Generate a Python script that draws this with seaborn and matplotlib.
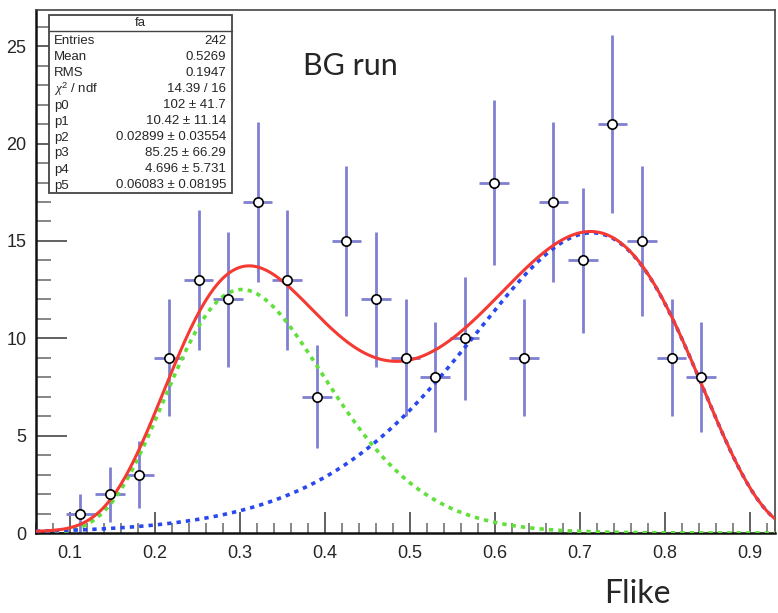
import math
import numpy as np
import pandas as pd
import matplotlib
matplotlib.use("Agg")
import matplotlib.pyplot as plt
from matplotlib.patches import Rectangle
from matplotlib.ticker import MultipleLocator
import seaborn as sns

# Histogram of Flike: 25 bins between 0.06 and 0.93
x_low, x_high, n_bins = 0.06, 0.93, 25
counts = [0, 1, 2, 3, 9, 13, 12, 17, 13, 7, 15, 12, 9, 8, 10, 18, 9, 17, 14, 21, 15, 9, 8, 0, 0]

# Fit parameters (two Poisson-shaped components, the second mirrored at x = 1)
p0, p1, p2 = 102.0, 10.42, 0.02899
p3, p4, p5 = 85.25, 4.696, 0.06083

stat_labels = ["Entries", "Mean", "RMS", r"$\chi^{2}$ / ndf", "p0", "p1", "p2", "p3", "p4", "p5"]
stat_values = ["242", "0.5269", "0.1947", "14.39 / 16", "102 \u00b1 41.7", "10.42 \u00b1 11.14",
               "0.02899 \u00b1 0.03554", "85.25 \u00b1 66.29", "4.696 \u00b1 5.731",
               "0.06083 \u00b1 0.08195"]

sns.set_style("ticks")
plt.rcParams["font.family"] = ["Liberation Sans", "DejaVu Sans"]
plt.rcParams["mathtext.fontset"] = "custom"
plt.rcParams["mathtext.it"] = "Liberation Serif:italic"
plt.rcParams["mathtext.rm"] = "Liberation Sans"

W, H = 778, 613
fig = plt.figure(figsize=(W / 100, H / 100), dpi=100)
ax_l, ax_r, ax_t, ax_b = 36, 775, 10, 533
ax = fig.add_axes([ax_l / W, 1 - ax_b / H, (ax_r - ax_l) / W, (ax_b - ax_t) / H])

width = (x_high - x_low) / n_bins
centers = x_low + width * (np.arange(n_bins) + 0.5)
counts_arr = np.array(counts, dtype=float)
hist = pd.DataFrame({"x": centers, "n": counts_arr, "err": np.sqrt(counts_arr)})
filled = hist[hist["n"] > 0]

# Error bars
ax.errorbar(filled["x"], filled["n"], yerr=filled["err"], xerr=width / 2,
            fmt="none", ecolor="#8080d2", elinewidth=2.0, capsize=0, zorder=2)


def poisson_shape(u, amp, k, scale):
    lam = np.clip(u, 1e-12, None) / scale
    return amp * np.exp(k * np.log(lam) - lam - math.lgamma(k + 1.0))


xs = np.linspace(x_low, x_high, 600)
green = poisson_shape(xs, p0, p1, p2)
blue = poisson_shape(1.0 - xs, p3, p4, p5)
curves = pd.DataFrame({"x": xs, "green": green, "blue": blue, "total": green + blue})

sns.lineplot(data=curves, x="x", y="green", ax=ax, color="#5fe03a", lw=2.6,
             linestyle=(0, (1.2, 1.4)), sort=False, estimator=None, zorder=3)
sns.lineplot(data=curves, x="x", y="blue", ax=ax, color="#2a48f0", lw=2.6,
             linestyle=(0, (1.2, 1.4)), sort=False, estimator=None, zorder=3)
sns.lineplot(data=curves, x="x", y="total", ax=ax, color="#f43a32", lw=2.2,
             sort=False, estimator=None, zorder=4)

sns.scatterplot(data=filled, x="x", y="n", ax=ax, s=45, color="white",
                edgecolor="black", linewidth=1.2, zorder=5)

ax.set_xlim(x_low, x_high)
ax.set_ylim(0, 26.86)
ax.set_xlabel("")
ax.set_ylabel("")

ax.xaxis.set_major_locator(MultipleLocator(0.1))
ax.xaxis.set_minor_locator(MultipleLocator(0.02))
ax.yaxis.set_major_locator(MultipleLocator(5))
ax.yaxis.set_minor_locator(MultipleLocator(1))
ax.tick_params(axis="x", which="major", direction="in", length=15, width=1.3,
               color="#555555", labelsize=13, pad=9)
ax.tick_params(axis="x", which="minor", direction="in", length=7, width=1.1, color="#666666")
ax.tick_params(axis="y", which="major", direction="in", length=22, width=1.3,
               color="#555555", labelsize=13, pad=7)
ax.tick_params(axis="y", which="minor", direction="in", length=11, width=1.1, color="#666666")
ax.set_xticks([0.1, 0.2, 0.3, 0.4, 0.5, 0.6, 0.7, 0.8, 0.9])
ax.set_xticklabels(["0.1", "0.2", "0.3", "0.4", "0.5", "0.6", "0.7", "0.8", "0.9"])

for side in ("left", "bottom"):
    ax.spines[side].set_color("#111111")
    ax.spines[side].set_linewidth(1.8)
for side in ("top", "right"):
    ax.spines[side].set_visible(True)
    ax.spines[side].set_color("#444444")
    ax.spines[side].set_linewidth(1.2)

# Statistics box
bx0, bx1, by0, by1 = 49, 232, 15, 193
box = Rectangle((bx0 / W, 1 - by1 / H), (bx1 - bx0) / W, (by1 - by0) / H,
                transform=fig.transFigure, facecolor="white", edgecolor="#444444",
                lw=1.3, zorder=10)
fig.add_artist(box)
fig.text((bx0 + bx1) / 2 / W, 1 - 23.5 / H, "fa", ha="center", va="center",
         fontsize=9.5, zorder=11)
fig.add_artist(plt.Line2D([bx0 / W, bx1 / W], [1 - 30.5 / H] * 2,
                          transform=fig.transFigure, color="#444444", lw=1.0, zorder=11))
row_h = 16.0
for i, (lab, val) in enumerate(zip(stat_labels, stat_values)):
    yc = 1 - (41.5 + row_h * i) / H
    fig.text((bx0 + 5) / W, yc, lab, ha="left", va="center", fontsize=9.5, zorder=11)
    fig.text((bx1 - 6) / W, yc, val, ha="right", va="center", fontsize=9.5, zorder=11)

fig.text(350 / W, 1 - 66 / H, "BG run", ha="center", va="center", fontsize=22,
         family=["Lato", "DejaVu Sans"])
fig.text(637 / W, 1 - 594 / H, "Flike", ha="center", va="center", fontsize=23,
         family=["Lato", "DejaVu Sans"])

fig.savefig("out.png", dpi=100, facecolor="white")
